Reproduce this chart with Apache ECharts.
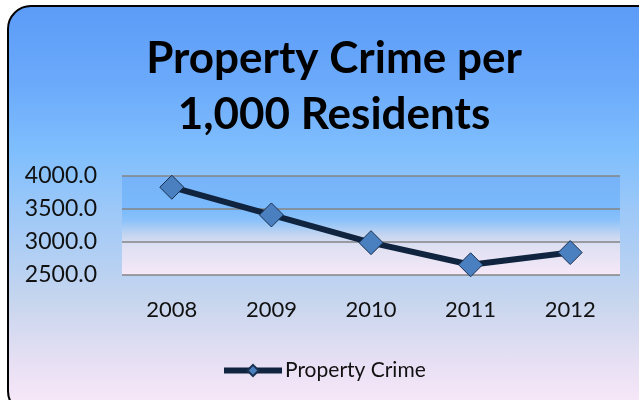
<!DOCTYPE html>
<html>
<head>
<meta charset="utf-8">
<script src="https://cdn.jsdelivr.net/npm/echarts@6/dist/echarts.min.js"></script>
<style>
  html, body { margin: 0; padding: 0; background: #ffffff; overflow: hidden; }
  #wrap { position: relative; width: 639px; height: 400px; overflow: hidden; }
  #frame {
    position: absolute; left: 7px; top: 5px; width: 660px; height: 410px;
    box-sizing: border-box; border: 2.5px solid #000; border-radius: 24px;
    background: linear-gradient(to bottom, #5c9cf8 0%, #6aa9fa 18%, #80bffd 36%, #a6cbf6 55%, #c8d6ee 73%, #e8e0f4 88%, #fbe9f9 100%);
  }
  #chart { position: absolute; left: 0; top: 0; width: 639px; height: 400px; }
</style>
</head>
<body>
<div id="wrap">
  <div id="frame"></div>
  <div id="chart"></div>
</div>
<script>
// Property crime per 1,000 residents, by year
const years = ['2008', '2009', '2010', '2011', '2012'];
const propertyCrime = [3830, 3410, 2990, 2655, 2840];
const yTicks = { min: 2500, max: 4000, step: 500 };

const chart = echarts.init(document.getElementById('chart'), null, { renderer: 'canvas' });

chart.setOption({
  backgroundColor: 'transparent',
  animation: false,
  title: {
    text: 'Property Crime per\n1,000 Residents',
    left: 329,
    textAlign: 'center',
    top: 26,
    textStyle: {
      fontFamily: 'Lato',
      fontWeight: 'bold',
      fontSize: 44,
      lineHeight: 56,
      color: '#000'
    }
  },
  legend: {
    left: 216,
    top: 355,
    itemWidth: 58,
    itemHeight: 14,
    itemGap: 4,
    lineStyle: { width: 6 },
    textStyle: { fontFamily: 'Lato', fontSize: 21, color: '#111', padding: [0, 0, 0, -2] },
    data: ['Property Crime']
  },
  grid: {
    left: 122,
    right: 19,
    top: 176,
    bottom: 125,
    show: true,
    borderWidth: 0,
    backgroundColor: new echarts.graphic.LinearGradient(0, 0, 0, 1, [
      { offset: 0, color: '#76b2f8' },
      { offset: 0.33, color: '#7abafc' },
      { offset: 0.45, color: '#8cc2fa' },
      { offset: 0.6, color: '#c6d6f0' },
      { offset: 0.7, color: '#dde0f2' },
      { offset: 1, color: '#f6e8f8' }
    ])
  },
  xAxis: {
    type: 'category',
    data: years,
    boundaryGap: true,
    axisLine: { show: false },
    axisTick: { show: false },
    axisLabel: {
      margin: 24,
      fontFamily: 'Lato',
      fontSize: 22,
      color: '#111'
    }
  },
  yAxis: {
    type: 'value',
    min: yTicks.min,
    max: yTicks.max,
    interval: yTicks.step,
    axisLine: { show: false },
    axisTick: { show: false },
    axisLabel: {
      margin: 25,
      fontFamily: 'Lato',
      fontSize: 23,
      color: '#111',
      formatter: v => v.toFixed(1)
    },
    splitLine: { lineStyle: { color: '#858585', width: 1.5 } }
  },
  series: [{
    name: 'Property Crime',
    type: 'line',
    data: propertyCrime,
    symbol: 'diamond',
    symbolSize: 24,
    lineStyle: { color: '#102440', width: 6 },
    itemStyle: { color: '#4a80c0', borderColor: '#1a3050', borderWidth: 1 }
  }]
});
</script>
</body>
</html>
